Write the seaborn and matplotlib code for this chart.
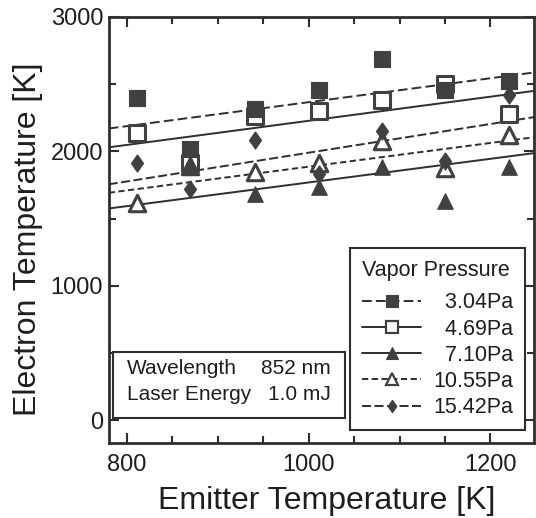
import numpy as np
import matplotlib
matplotlib.use("Agg")
import matplotlib.pyplot as plt
from matplotlib.lines import Line2D
from matplotlib.patches import Rectangle
from matplotlib.ticker import MultipleLocator
import seaborn as sns

# Emitter temperature [K] at which each series was measured
emitter_temp = [811, 870, 941, 1011, 1081, 1150, 1220]

# Electron temperature [K] per vapor pressure (nan: no point recorded)
te_304 = [2395, 2015, 2312, 2455, 2687, 2455, 2525]
te_469 = [2137, 1910, 2262, 2300, 2380, 2505, 2280]
te_710 = [np.nan, 1895, 1680, 1738, 1887, 1632, 1887]
te_1055 = [1613, 1890, 1850, 1912, 2080, 1875, 2120]
te_1542 = [1912, 1720, 2087, 1828, 2150, 1925, 2420]

# Linear fits, evaluated at the ends of the temperature range
fit_x = [780, 1248]
fit_304 = [2170, 2587]
fit_469 = [2030, 2450]
fit_710 = [1575, 1987]
fit_1055 = [1692, 2105]
fit_1542 = [1755, 2255]

pressure_labels = ["  3.04Pa", "  4.69Pa", "  7.10Pa", "10.55Pa", "15.42Pa"]

sns.set_theme(style="ticks")
plt.rcParams["font.family"] = ["Liberation Sans", "DejaVu Sans"]
plt.rcParams["lines.scale_dashes"] = False

ink = "#2e2e2e"
mark = "#404040"
txt = "#1e1e1e"

fig = plt.figure(figsize=(5.36, 5.18), dpi=100)
ax = fig.add_axes([0.2028, 0.1448, 0.7935, 0.8224])

diamond = [(0, 1), (0.7, 0), (0, -1), (-0.7, 0), (0, 1)]

series = [
    # values, fit, marker, size, filled, linestyle
    (te_304, fit_304, "s", 125, True, (0, (7, 3))),
    (te_469, fit_469, "s", 125, False, "-"),
    (te_710, fit_710, "^", 125, True, "-"),
    (te_1055, fit_1055, "^", 140, False, (0, (4.5, 2.5))),
    (te_1542, fit_1542, diamond, 155, True, (0, (6.5, 2.5))),
]

for vals, fit, mk, size, filled, ls in series:
    sns.lineplot(x=fit_x, y=fit, ax=ax, color=ink, linewidth=1.4,
                 linestyle=ls, zorder=2)

# hollow symbols first, solid symbols on top of them
for i in [1, 3, 0, 4, 2]:
    vals, fit, mk, size, filled, ls = series[i]
    if filled:
        sns.scatterplot(x=emitter_temp, y=vals, ax=ax, marker=mk, s=size,
                        color=mark, edgecolor=mark, linewidth=0.8, zorder=4)
    else:
        sns.scatterplot(x=emitter_temp, y=vals, ax=ax, marker=mk, s=size,
                        color="white", edgecolor=mark, linewidth=2.2, zorder=3)

ax.set_xlim(780, 1248)
ax.set_ylim(-170, 3000)

ax.xaxis.set_major_locator(MultipleLocator(200))
ax.xaxis.set_minor_locator(MultipleLocator(50))
ax.yaxis.set_major_locator(MultipleLocator(1000))
ax.yaxis.set_minor_locator(MultipleLocator(500))
ax.tick_params(which="both", direction="in", top=True, right=True,
               color=ink, width=1.5, labelsize=17, labelcolor=txt)
ax.tick_params(which="major", length=7)
ax.tick_params(which="minor", length=5)
ax.tick_params(axis="x", which="major", pad=8)
ax.tick_params(axis="y", which="major", pad=4)

for side in ax.spines.values():
    side.set_linewidth(2.0)
    side.set_color(ink)

ax.set_xlabel("Emitter Temperature [K]", fontsize=23, color=txt)
ax.set_ylabel("Electron Temperature [K]", fontsize=23, color=txt)
ax.xaxis.set_label_coords(0.512, -0.101)
ax.yaxis.set_label_coords(-0.155, 0.478)

# Legend of vapor pressures
handles = []
for vals, fit, mk, size, filled, ls in series:
    handles.append(Line2D([], [], color=ink, linewidth=1.4, linestyle=ls,
                          marker=mk, markersize=np.sqrt(size) * 0.72,
                          markerfacecolor=mark if filled else "white",
                          markeredgecolor=mark,
                          markeredgewidth=0.8 if filled else 1.6))
leg = ax.legend(handles, pressure_labels, title="Vapor Pressure",
                loc="lower right", bbox_to_anchor=(0.979, 0.0305),
                borderaxespad=0, fontsize=15.5, title_fontsize=15.5,
                frameon=True, fancybox=False, edgecolor=ink, framealpha=1,
                handlelength=2.75, handletextpad=0.55, labelspacing=0.24,
                borderpad=0.55, alignment="left")
# a little more room between the title and the first entry
leg._legend_box.sep = 8.5
leg.get_frame().set_linewidth(1.5)
for t in leg.get_texts():
    t.set_color(txt)
leg.get_title().set_color(txt)

# Measurement conditions
ax.add_patch(Rectangle((0.010, 0.0587), 0.546, 0.155, transform=ax.transAxes,
                       facecolor="white", edgecolor=ink, linewidth=1.5, zorder=5))
ax.text(0.042, 0.176, "Wavelength", transform=ax.transAxes, fontsize=15,
        va="center", ha="left", color=txt, zorder=6)
ax.text(0.042, 0.113, "Laser Energy", transform=ax.transAxes, fontsize=15,
        va="center", ha="left", color=txt, zorder=6)
ax.text(0.522, 0.176, "852 nm", transform=ax.transAxes, fontsize=15,
        va="center", ha="right", color=txt, zorder=6)
ax.text(0.522, 0.113, "1.0 mJ", transform=ax.transAxes, fontsize=15,
        va="center", ha="right", color=txt, zorder=6)

fig.savefig("out.png", dpi=100)
